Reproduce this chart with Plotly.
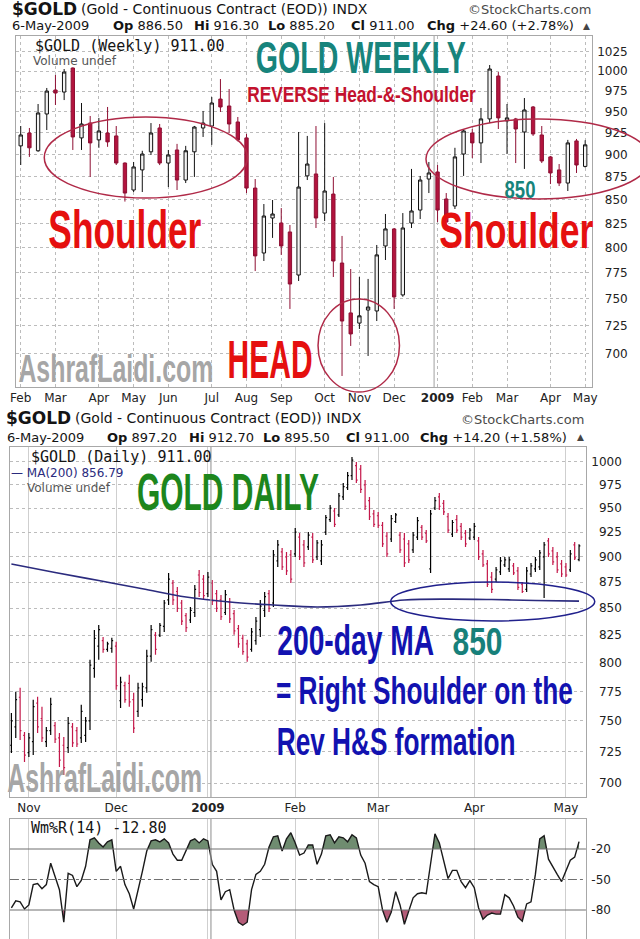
import math
import json
import plotly.graph_objects as go

W, H = 640, 939
def px(x): return x / W
def py(y): return 1 - y / H

# ---------------- weekly candles (Feb 2008 - May 2009) ----------------
w_open = [909.8, 924.7, 904.2, 947.2, 976.3, 973.8, 1003.8, 919.0, 936.4, 916.7, 924.7, 921.3, 890.3, 860.5, 882.6, 903.0,
          930.6, 890.3, 905.1, 871.4, 903.0, 930.6, 932.9, 965.2, 956.8, 937.7, 919.0, 862.6, 794.7, 830.6, 825.4, 816.1,
          772.9, 876.0, 878.1, 835.8, 856.1, 784.7, 736.8, 727.4, 739.5, 738.6, 801.8, 819.2, 753.7, 825.4, 839.0, 872.5,
          880.3, 850.8, 843.3, 900.5, 924.7, 913.2, 941.3, 993.7, 939.0, 941.3, 925.9, 955.6, 922.4, 897.2, 882.6, 868.1,
          915.5, 886.5]
w_high = [932.9, 930.6, 959.2, 978.8, 995.0, 1002.5, 1004.5, 960.4, 944.8, 942.5, 955.6, 932.9, 891.0, 891.5, 904.2, 936.4,
          935.3, 905.1, 912.1, 909.8, 933.0, 950.8, 967.7, 989.9, 977.5, 943.6, 923.6, 872.5, 845.4, 849.7, 841.1, 823.3,
          925.9, 921.3, 932.9, 936.4, 874.8, 812.0, 778.8, 771.0, 769.1, 802.8, 834.8, 820.2, 835.8, 883.7, 875.9, 891.5,
          888.1, 857.2, 907.6, 929.4, 929.4, 954.4, 1007.6, 998.7, 959.2, 942.5, 966.5, 956.8, 932.9, 898.3, 889.2, 916.7,
          917.8, 916.3]
w_low = [888.1, 897.2, 903.0, 928.2, 958.0, 964.0, 905.1, 905.1, 874.8, 907.6, 908.7, 888.1, 848.0, 858.3, 858.3, 899.4,
         888.0, 863.7, 860.5, 868.1, 874.8, 920.1, 911.0, 949.6, 924.7, 915.0, 857.2, 776.8, 786.7, 810.0, 792.8, 740.5,
         767.1, 871.4, 820.2, 827.4, 771.0, 680.4, 706.7, 722.0, 697.8, 729.3, 787.7, 740.5, 752.0, 820.2, 829.5, 857.2,
         826.4, 818.1, 840.1, 875.9, 896.0, 890.3, 936.4, 929.4, 900.5, 890.3, 883.7, 921.3, 890.3, 867.0, 864.8, 859.4,
         879.2, 885.2]
w_close = [922.4, 907.6, 948.4, 975.0, 972.6, 998.7, 920.1, 935.3, 913.2, 927.1, 914.4, 890.3, 857.2, 885.9, 900.5, 924.7,
           890.3, 899.4, 871.4, 904.2, 931.7, 936.4, 960.4, 955.6, 935.3, 916.7, 862.6, 791.8, 832.7, 834.8, 801.8, 764.2,
           863.7, 889.2, 830.6, 859.4, 786.7, 729.3, 717.5, 734.1, 742.3, 792.8, 819.2, 751.8, 820.2, 838.0, 871.4, 879.2,
           839.0, 826.4, 897.2, 927.1, 913.2, 941.3, 1002.5, 942.5, 942.5, 929.4, 952.0, 923.6, 892.6, 879.2, 868.1, 913.2,
           888.1, 911.0]
w_tick_pos = [0, 4, 9, 13, 17, 22, 26, 30, 35, 39, 43, 48, 52, 56, 61, 65]
w_tick_txt = ["Feb", "Mar", "Apr", "May", "Jun", "Jul", "Aug", "Sep", "Oct", "Nov", "Dec", "<b>2009</b>",
              "Feb", "Mar", "Apr", "May"]
w_price_ticks = [700, 725, 750, 775, 800, 825, 850, 875, 900, 925, 950, 975, 1000, 1025]

# ---------------- daily bars (late Oct 2008 - 6 May 2009) ----------------
d_open = [730, 745, 770, 738, 724, 733, 765, 752, 733, 742, 746, 736, 730, 728, 745, 742, 736, 738, 750, 795,
          815, 820, 812, 813, 815, 767, 780, 782, 768, 758, 768, 778, 806, 825, 825, 833, 858, 874, 866, 855,
          843, 839, 846, 882, 878, 864, 874, 864, 858, 846, 856, 845, 831, 822, 817, 812, 820, 830, 848, 864,
          855, 896, 905, 900, 902, 903, 920, 912, 910, 920, 900, 896, 925, 938, 947, 943, 962, 972, 985, 996,
          992, 975, 958, 944, 942, 932, 921, 918, 936, 922, 918, 913, 907, 920, 930, 924, 888, 950, 962, 955,
          941, 923, 938, 931, 924, 919, 920, 916, 903, 893, 880, 878, 885, 892, 888, 891, 886, 873, 868, 883,
          888, 890, 900, 916, 906, 900, 893, 890, 887, 912, 897.2]
d_high = [756.7, 774.7, 778.1, 740.8, 740.0, 767.8, 770.4, 761.8, 745.0, 769.5, 749.1, 740.0, 736.7, 753.3, 748.3, 745.0,
          763.5, 753.3, 802.7, 829.8, 834.4, 823.4, 818.9, 822.5, 818.9, 787.7, 783.4, 789.5, 773.8, 782.5, 782.5, 811.7,
          834.4, 827.9, 836.3, 857.8, 883.9, 877.1, 870.3, 857.8, 845.6, 851.2, 872.2, 886.9, 882.0, 884.9, 877.1, 867.4,
          862.6, 867.4, 859.7, 848.4, 834.4, 825.3, 820.7, 831.6, 841.8, 857.8, 865.5, 867.4, 906.8, 917.0, 908.8, 904.8,
          906.8, 929.3, 924.1, 917.0, 925.2, 924.1, 917.0, 917.0, 942.8, 953.4, 950.2, 966.1, 977.0, 989.0, 1005.6, 1000.0,
          996.7, 980.2, 961.9, 948.1, 946.0, 935.5, 925.2, 942.8, 944.9, 925.2, 924.1, 917.0, 925.2, 940.7, 932.4, 927.2,
          948.1, 961.9, 966.1, 958.7, 944.9, 937.6, 942.8, 934.4, 927.2, 929.3, 934.4, 920.0, 906.8, 896.8, 884.9, 889.8,
          899.8, 899.8, 899.8, 893.8, 889.8, 875.1, 889.8, 893.8, 899.8, 906.8, 915.0, 919.0, 909.9, 904.8, 896.8, 893.8,
          906.8, 915.0, 912.7]
d_low = [723.7, 735.9, 734.3, 716.5, 720.5, 722.1, 740.0, 732.6, 728.6, 738.4, 731.8, 712.5, 706.3, 723.7, 728.6, 728.6,
         731.8, 732.6, 742.5, 786.8, 802.7, 809.0, 809.9, 809.0, 776.4, 760.9, 765.2, 761.8, 740.0, 753.3, 761.8, 773.8,
         800.9, 807.2, 823.4, 827.9, 853.1, 853.1, 846.5, 834.4, 827.9, 836.3, 841.8, 860.7, 857.8, 860.7, 853.1, 846.5,
         839.0, 843.7, 836.3, 825.3, 813.5, 807.2, 800.9, 809.9, 816.2, 823.4, 841.8, 846.5, 851.2, 889.8, 886.9, 882.0,
         874.2, 899.8, 896.8, 889.8, 906.8, 893.8, 896.8, 891.8, 922.1, 935.5, 930.3, 940.7, 958.7, 969.4, 980.2, 977.0,
         966.1, 948.1, 937.6, 930.3, 929.3, 909.9, 899.8, 915.0, 934.4, 903.8, 889.8, 893.8, 903.8, 917.0, 917.0, 913.9,
         883.9, 948.1, 948.1, 942.8, 924.1, 920.0, 924.1, 917.0, 909.9, 917.0, 917.0, 896.8, 889.8, 870.3, 864.5, 875.1,
         882.0, 889.8, 884.9, 882.0, 867.4, 864.5, 865.5, 880.0, 884.9, 886.9, 859.7, 899.8, 891.8, 883.9, 880.0, 880.0,
         884.9, 896.8, 895.5]
d_close = [750, 768, 742, 722, 736, 762, 745, 736, 742, 764, 735, 718, 712, 748, 732, 731, 758, 750, 798, 822,
           830, 812, 817, 820, 780, 783, 768, 766, 744, 778, 779, 806, 830, 812, 834, 855, 878, 858, 850, 838,
           832, 848, 868, 865, 862, 880, 857, 850, 842, 863, 840, 829, 817, 810, 805, 828, 838, 852, 861, 850,
           902, 912, 890, 886, 878, 925, 900, 894, 922, 897, 914, 912, 940, 950, 933, 963, 973, 985, 1002, 980,
           970, 952, 941, 933, 932, 913, 903, 939, 943, 907, 894, 897, 922, 937, 920, 916, 944, 958, 952, 946,
           927, 935, 927, 920, 913, 927, 931, 900, 892, 873, 868, 887, 896, 897, 897, 884, 870, 866, 886, 891,
           897, 904, 912, 903, 895, 887, 883, 882, 903, 899, 911.0]
d_tick_pos = [4, 24, 45, 65, 84, 106, 127]
d_tick_txt = ["Nov", "Dec", "<b>2009</b>", "Feb", "Mar", "Apr", "May"]
d_price_ticks = [700, 725, 750, 775, 800, 825, 850, 875, 900, 925, 950, 975, 1000]

# 200-day moving average, read at every 10th bar
ma_pos = [0, 10, 20, 30, 40, 50, 60, 70, 80, 90, 100, 110, 120, 130]
ma_val = [892.9, 884.5, 876.6, 868.7, 860.7, 855.9, 853.1, 851.2, 853.1, 857.8, 858.7, 858.3, 857.4, 856.8]

# Williams %R(14), one value per daily bar
wr_val = [-78, -71, -72, -79, -75, -55, -54, -59, -55, -34, -47, -60, -92, -44, -46, -57, -51, -37, -11, -9,
          -14, -18, -13, -11, -42, -37, -55, -64, -79, -62, -42, -22, -12, -11, -13, -10, -14, -25, -31, -31,
          -22, -12, -10, -14, -10, -12, -35, -42, -70, -62, -60, -80, -92, -95, -92, -60, -45, -42, -35, -18,
          -8, -7, -22, -10, -4, -14, -26, -24, -16, -16, -35, -25, -7, -6, -14, -8, -9, -13, -6, -9,
          -26, -34, -52, -55, -57, -80, -92, -82, -62, -75, -94, -80, -68, -64, -63, -64, -34, -5, -14, -32,
          -49, -41, -41, -52, -58, -51, -58, -78, -89, -85, -83, -84, -84, -65, -68, -76, -87, -91, -74, -72,
          -45, -10, -7, -30, -38, -45, -52, -41, -31, -28, -12.8]
wr_ticks = [-20, -50, -80]

w_idx = list(range(len(w_open)))
d_idx = list(range(len(d_open)))

RED_W = '#b3143e'
RED_D = '#c4184a'

fig = go.Figure()

fig.add_trace(go.Candlestick(
    x=w_idx, open=w_open, high=w_high, low=w_low, close=w_close, xaxis='x', yaxis='y',
    increasing=dict(line=dict(color='#111111', width=1), fillcolor='#f4f4f4'),
    decreasing=dict(line=dict(color='#8e0f33', width=1), fillcolor=RED_W),
    whiskerwidth=0, showlegend=False, hoverinfo='skip'))

fig.add_trace(go.Ohlc(
    x=d_idx, open=d_open, high=d_high, low=d_low, close=d_close, xaxis='x2', yaxis='y2',
    increasing=dict(line=dict(color='#000000', width=1.2)),
    decreasing=dict(line=dict(color=RED_D, width=1.2)),
    tickwidth=0.3, showlegend=False, hoverinfo='skip'))

fig.add_trace(go.Scatter(x=ma_pos, y=ma_val, mode='lines', line=dict(color='#2b2b7e', width=1.6, shape='spline'),
                         xaxis='x2', yaxis='y2', showlegend=False, hoverinfo='skip'))

def band(xs, ys, level, above):
    bx, by = [], []
    for k in range(len(xs)):
        if k > 0:
            y0, y1 = ys[k - 1], ys[k]
            if (y0 - level) * (y1 - level) < 0:
                t = (level - y0) / (y1 - y0)
                bx.append(xs[k - 1] + t * (xs[k] - xs[k - 1]))
                by.append(level)
        bx.append(xs[k])
        by.append(max(ys[k], level) if above else min(ys[k], level))
    return bx, by

for level, above, col in [(-20, True, '#6f8c70'), (-80, False, '#b45c78')]:
    bx, by = band(d_idx, wr_val, level, above)
    fig.add_trace(go.Scatter(x=bx, y=[level] * len(bx), mode='lines', line=dict(width=0, color=col),
                             xaxis='x3', yaxis='y3', showlegend=False, hoverinfo='skip'))
    fig.add_trace(go.Scatter(x=bx, y=by, mode='lines', line=dict(width=0, color=col), fill='tonexty',
                             fillcolor=col, xaxis='x3', yaxis='y3', showlegend=False, hoverinfo='skip'))

fig.add_trace(go.Scatter(x=d_idx, y=wr_val, mode='lines', line=dict(color='#1a1a1a', width=1.4),
                         xaxis='x3', yaxis='y3', showlegend=False, hoverinfo='skip'))

GRID = '#bcbcbc'
FRAME = '#a8a8a8'
TICKFONT = dict(family='DejaVu Sans', size=12, color='#222222')

def ylab(v):
    return ('\u2007' + str(v)) if v < 1000 else str(v)

w_xr = [(10 - 15) / 8.85, (597 - 15) / 8.85]
d_xr = [(4 - 5.5) / 4.45, (591 - 5.5) / 4.45]

fig.update_layout(
    width=W, height=H, margin=dict(l=0, r=0, t=0, b=0),
    paper_bgcolor='white', plot_bgcolor='white', showlegend=False, boxgap=0.45,
    font=dict(family='DejaVu Sans', size=12, color='#222222'),
    xaxis=dict(domain=[px(10), px(597)], range=w_xr, anchor='y', tickmode='array', tickvals=w_tick_pos,
               ticktext=w_tick_txt, showgrid=True, gridcolor=GRID, griddash='dot', gridwidth=1, zeroline=False,
               showline=True, mirror=True, linecolor=FRAME, ticks='', ticklen=0, tickfont=TICKFONT,
               rangeslider=dict(visible=False), ticklabelstandoff=0),
    yaxis=dict(domain=[py(387), py(36)], type='log', range=[math.log10(671.0), math.log10(1045.2)], anchor='x',
               side='right', tickmode='array', tickvals=w_price_ticks, ticktext=[ylab(v) for v in w_price_ticks],
               showgrid=True, gridcolor=GRID, griddash='dot', zeroline=False, showline=True, mirror=True,
               linecolor=FRAME, ticks='', ticklen=0, tickfont=TICKFONT, ticklabelstandoff=2),
    xaxis2=dict(domain=[px(4), px(591)], range=d_xr, anchor='y2', tickmode='array', tickvals=d_tick_pos,
                ticktext=d_tick_txt, showgrid=True, gridcolor='#cfcfcf', gridwidth=1, zeroline=False,
                showline=True, mirror=True, linecolor=FRAME, ticks='', ticklen=0, tickfont=TICKFONT,
                rangeslider=dict(visible=False), ticklabelstandoff=0),
    yaxis2=dict(domain=[py(797), py(447)], type='log', range=[math.log10(689.2), math.log10(1016.8)], anchor='x2',
                side='right', tickmode='array', tickvals=d_price_ticks, ticktext=[ylab(v) for v in d_price_ticks],
                showgrid=True, gridcolor=GRID, griddash='dot', zeroline=False, showline=True, mirror=True,
                linecolor=FRAME, ticks='', ticklen=0, tickfont=TICKFONT, ticklabelstandoff=2),
    xaxis3=dict(domain=[px(4), px(591)], range=d_xr, anchor='y3', matches='x2', tickmode='array',
                tickvals=d_tick_pos, showticklabels=False, showgrid=True, gridcolor='#cfcfcf', zeroline=False,
                showline=True, mirror=True, linecolor=FRAME, ticks='', ticklen=0),
    yaxis3=dict(domain=[0, py(819)], range=[-108.5, 9.5], anchor='x3', side='right', tickmode='array',
                tickvals=wr_ticks, ticktext=[str(v) for v in wr_ticks], showgrid=False, zeroline=False,
                showline=True, mirror=True, linecolor=FRAME, ticks='', ticklen=0, tickfont=TICKFONT,
                ticklabelstandoff=2),
)

shapes = []
# year dividers
shapes.append(dict(type='line', xref='x', yref='y domain', x0=47.6, x1=47.6, y0=0, y1=1,
                   line=dict(color='#a0a0a0', width=1)))
for ax, yr in [('x2', 'y2 domain'), ('x3', 'y3 domain')]:
    shapes.append(dict(type='line', xref=ax, yref=yr, x0=45.7, x1=45.7, y0=0, y1=1,
                       line=dict(color='#a0a0a0', width=1.2)))
# %R reference lines
for lv, dash in [(-20, 'solid'), (-50, 'dashdot'), (-80, 'solid')]:
    shapes.append(dict(type='line', xref='x3 domain', yref='y3', x0=0, x1=1, y0=lv, y1=lv,
                       line=dict(color='#707070', width=1.2, dash=dash)))
# hand-drawn ellipses
def ell(x0, y0, x1, y1, col, w=1.5):
    shapes.append(dict(type='circle', xref='paper', yref='paper', x0=px(x0), x1=px(x1), y0=py(y1), y1=py(y0),
                       line=dict(color=col, width=w), fillcolor='rgba(0,0,0,0)', layer='above'))
ell(39, 117, 246, 198, '#b02a48')
ell(428, 119, 657, 199, '#b02a48')
ell(318, 299, 401, 392, '#b02a48')
ell(392, 582, 600, 621, '#20208c')
fig.update_layout(shapes=shapes)

fit = {}
def ann(text, x, y, size, color, xanchor='left', family='DejaVu Sans', bold=False, width=None):
    fig.add_annotation(text=text, x=px(x), y=py(y), xref='paper', yref='paper', xanchor=xanchor,
                       yanchor='middle', showarrow=False, borderpad=0,
                       font=dict(size=size, color=color, family=family, weight='bold' if bold else 'normal'))
    if width is not None:
        fit[str(len(fig.layout.annotations) - 1)] = width

HDR = '#141414'
# ---- weekly header ----
ann('$GOLD', 5, 9, 17, HDR, bold=True)
ann('(Gold - Continuous Contract (EOD)) INDX', 75, 9, 14, HDR)
ann('©StockCharts.com', 597, 9, 13, '#4a4a4a', xanchor='right')
ann('6-May-2009', 5, 26, 13, HDR)
ann('<b>Op</b> 886.50', 108, 26, 13, HDR)
ann('<b>Hi</b> 916.30', 191, 26, 13, HDR)
ann('<b>Lo</b> 885.20', 266, 26, 13, HDR)
ann('<b>Cl</b> 911.00', 351, 26, 13, HDR)
ann('<b>Chg</b> +24.60 (+2.78%)', 428, 26, 13, HDR)
ann('▲', 592, 26, 9, '#444444', xanchor='center')
ann('$GOLD (Weekly) 911.00', 29, 46, 15, HDR, family='DejaVu Sans Mono')
ann('Volume undef', 27, 61, 12, '#555555')
# ---- daily header ----
ann('$GOLD', -1, 418, 17, HDR, bold=True)
ann('(Gold - Continuous Contract (EOD)) INDX', 69, 418, 14, HDR)
ann('©StockCharts.com', 590, 419, 13, '#4a4a4a', xanchor='right')
ann('6-May-2009', 0, 437, 13, HDR)
ann('<b>Op</b> 897.20', 102, 437, 13, HDR)
ann('<b>Hi</b> 912.70', 185, 437, 13, HDR)
ann('<b>Lo</b> 895.50', 261, 437, 13, HDR)
ann('<b>Cl</b> 911.00', 345, 437, 13, HDR)
ann('<b>Chg</b> +14.20 (+1.58%)', 421, 437, 13, HDR)
ann('▲', 585, 437, 9, '#444444', xanchor='center')
ann('$GOLD (Daily) 911.00', 24, 457, 15, HDR, family='DejaVu Sans Mono')
ann('— MA(200) 856.79', 4, 473, 12, '#2b2b7e')
ann('Volume undef', 20, 488, 12, '#555555')
ann('Wm%R(14) -12.80', 24, 828, 15, HDR, family='DejaVu Sans Mono')

# ---- hand annotations (big condensed lettering) ----
BIG = 'Liberation Sans Narrow, Liberation Sans, Arial, sans-serif'
ann('GOLD WEEKLY', 362, 57, 44, '#17847c', xanchor='center', family=BIG, bold=True, width=210)
ann('REVERSE Head-&-Shoulder', 362.5, 94, 22, '#c3122e', xanchor='center', family=BIG, bold=True, width=229)
ann('Shoulder', 121.5, 229, 53, '#e5100f', xanchor='center', family=BIG, bold=True, width=153)
ann('Shoulder', 520, 231, 50, '#e5100f', xanchor='center', family=BIG, bold=True, width=154)
ann('850', 523.5, 189, 24, '#17847c', xanchor='center', family=BIG, bold=True, width=31)
ann('HEAD', 269.5, 359, 53, '#e5100f', xanchor='center', family=BIG, bold=True, width=85)
ann('AshrafLaidi.com', 112.5, 369, 38, '#a6a6a6', xanchor='center', family=BIG, bold=True, width=195)
ann('GOLD DAILY', 226, 492, 51, '#1d861d', xanchor='center', family=BIG, bold=True, width=182)
ann('200-day MA', 356.5, 640, 42, '#1212b0', xanchor='center', family=BIG, bold=True, width=157)
ann('850', 480, 641, 39, '#17807a', xanchor='center', family=BIG, bold=True, width=50)
ann('= Right Shoulder on the', 426.5, 690, 39, '#1212b0', xanchor='center', family=BIG, bold=True, width=297)
ann('Rev H&amp;S formation', 397.5, 742, 38, '#1212b0', xanchor='center', family=BIG, bold=True, width=239)
ann('AshrafLaidi.com', 100.5, 778, 40, '#a6a6a6', xanchor='center', family=BIG, bold=True, width=195)

post = """
document.documentElement.style.margin = '0';
document.body.style.margin = '0';
document.body.style.padding = '0';
var T = %s;
var gd = document.getElementById('{plot_id}');
function squeeze(){
  gd.querySelectorAll('g.annotation').forEach(function(g){
    var k = g.getAttribute('data-index');
    if (!(k in T)) return;
    var t = g.querySelector('text.annotation-text');
    if (!t) return;
    t.removeAttribute('transform');
    var bb = t.getBBox();
    if (!bb.width) return;
    var sx = T[k] / bb.width;
    var cx = bb.x + bb.width / 2;
    t.setAttribute('transform', 'translate(' + cx + ' 0) scale(' + sx + ' 1) translate(' + (-cx) + ' 0)');
  });
}
try { squeeze(); } catch(e) {}
""" % json.dumps(fit)

fig.write_html("out.html", post_script=post, config={'displayModeBar': False})
